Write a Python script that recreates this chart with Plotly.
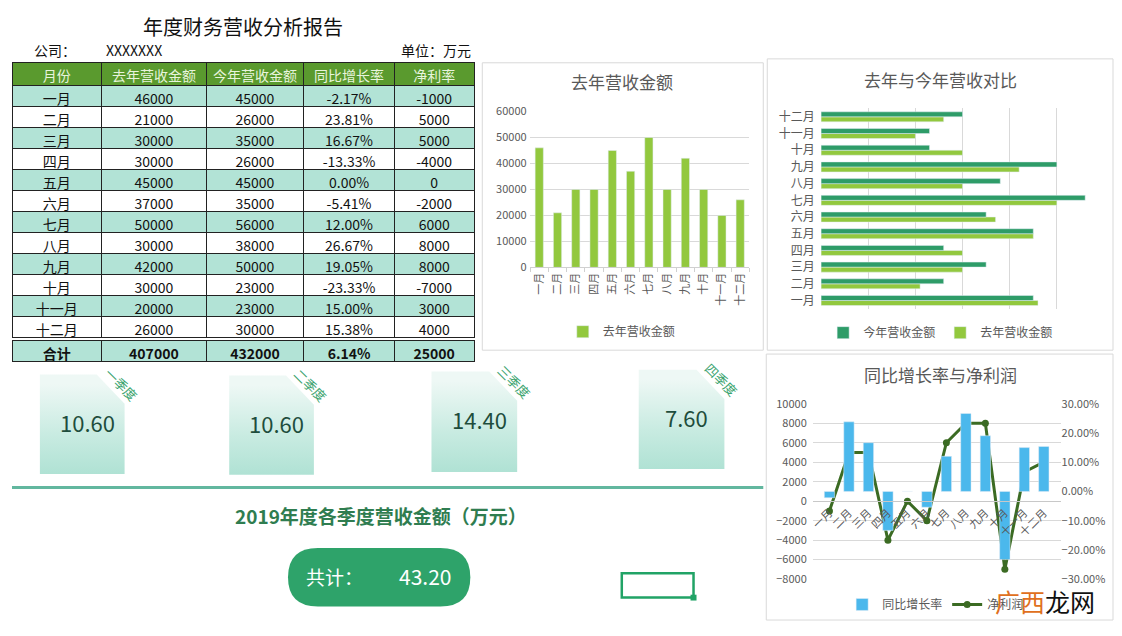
import plotly.graph_objects as go

W, H = 1122, 636          # page size
OX, OY = 8, 8             # page margin around the figure div
PW, PH = W - 2 * OX, H - 2 * OY
def fx(x): return (x - OX) / PW
def fy(y): return 1 - (y - OY) / PH

FONT = "Noto Sans CJK SC, Noto Sans, sans-serif"
GRAY = "#595959"

# ---------------- data ----------------
header = ["月份", "去年营收金额", "今年营收金额", "同比增长率", "净利率"]
months = ["一月", "二月", "三月", "四月", "五月", "六月", "七月", "八月", "九月", "十月", "十一月", "十二月"]
last_year = [46000, 21000, 30000, 30000, 45000, 37000, 50000, 30000, 42000, 30000, 20000, 26000]
this_year = [45000, 26000, 35000, 26000, 45000, 35000, 56000, 38000, 50000, 23000, 23000, 30000]
growth_pct = [-2.17, 23.81, 16.67, -13.33, 0.00, -5.41, 12.00, 26.67, 19.05, -23.33, 15.00, 15.38]
net_profit = [-1000, 5000, 5000, -4000, 0, -2000, 6000, 8000, 8000, -7000, 3000, 4000]
total_row = ["合计", "407000", "432000", "6.14%", "25000"]
quarters = ["一季度", "二季度", "三季度", "四季度"]
quarter_values = [10.60, 10.60, 14.40, 7.60]
total_value = 43.20

C_LIGHT = "#92c83e"
C_DARK = "#2e9c68"
C_BLUE = "#4bb8ec"
C_LINE = "#3b6b23"
TEAL = "#b2e3d6"
COLW = [90, 105, 98, 91, 80]

fig = go.Figure()

# ---------------- table ----------------
col_vals = [
    months,
    [str(v) for v in last_year],
    [str(v) for v in this_year],
    [f"{g:.2f}%" for g in growth_pct],
    [str(v) for v in net_profit],
]
row_fill = [TEAL if i % 2 == 0 else "white" for i in range(12)]
fig.add_trace(go.Table(
    domain=dict(x=[fx(8), fx(472)], y=[fy(346), fy(55)]),
    columnwidth=COLW,
    header=dict(values=header, fill_color="#5a9a2e", height=23,
                font=dict(color="#e8f4dc", size=14, family=FONT),
                line=dict(color="#222", width=1), align="center"),
    cells=dict(values=col_vals, fill_color=[row_fill] * 5, height=21,
               font=dict(color="#111", size=14, family=FONT),
               line=dict(color="#222", width=1), align="center"),
))
# total row (bold)
fig.add_trace(go.Table(
    domain=dict(x=[fx(8), fx(472)], y=[fy(368), fy(340)]),
    columnwidth=COLW,
    header=dict(values=total_row, fill_color=TEAL, height=21,
                font=dict(color="#111", size=14, family=FONT, weight="bold"),
                line=dict(color="#222", width=1), align="center"),
    cells=dict(values=[[] for _ in total_row], height=1,
               line=dict(color="rgba(0,0,0,0)", width=0), fill_color="rgba(0,0,0,0)"),
))

# ---------------- chart 1 ----------------
fig.add_trace(go.Bar(x=months, y=last_year, name="去年营收金额", marker_color=C_LIGHT,
                     width=0.45, xaxis="x", yaxis="y", legend="legend"))

# ---------------- chart 2 ----------------
fig.add_trace(go.Bar(y=months, x=last_year, orientation="h", name="去年营收金额",
                     marker_color=C_LIGHT, width=0.3, offset=-0.3,
                     xaxis="x2", yaxis="y2", legend="legend2", legendrank=2))
fig.add_trace(go.Bar(y=months, x=this_year, orientation="h", name="今年营收金额",
                     marker_color=C_DARK, width=0.3, offset=0.0,
                     xaxis="x2", yaxis="y2", legend="legend2", legendrank=1))

# ---------------- chart 3 ----------------
fig.add_trace(go.Bar(x=months, y=[g / 100 for g in growth_pct], name="同比增长率",
                     marker_color=C_BLUE, width=0.53, xaxis="x3", yaxis="y4",
                     legend="legend3"))
fig.add_trace(go.Scatter(x=months, y=net_profit, name="净利润", mode="lines+markers",
                         line=dict(color=C_LINE, width=3),
                         marker=dict(color=C_LINE, size=7),
                         xaxis="x3", yaxis="y3", legend="legend3"))

# ---------------- quarter cards (decoration on a pixel overlay) ----------------
cards = [(36, 121, 375, 477), (226, 311, 376, 478), (429, 515, 372, 475), (637, 723, 370, 472)]
for (L, R, T, B) in cards:
    fig.add_trace(go.Scatter(
        x=[L, R - 28, R, R, L, L], y=[T, T, T + 30, B, B, T], mode="lines",
        line=dict(width=0), fill="toself",
        fillgradient=dict(type="vertical", start=T, stop=B,
                          colorscale=[[0, "#eef8f5"], [0.5, "#c8ebe1"], [1, "#a8dfd0"]]),
        xaxis="x4", yaxis="y5", showlegend=False, hoverinfo="skip"))

fig.update_layout(
    autosize=True, margin=dict(l=0, r=0, t=0, b=0),
    paper_bgcolor="white", plot_bgcolor="rgba(0,0,0,0)",
    font=dict(family=FONT, color=GRAY),
    barmode="overlay", hovermode=False,
    xaxis=dict(domain=[fx(528), fx(748)], anchor="y", type="category", tickangle=-90,
               tickfont=dict(size=11, color=GRAY), showline=True, linecolor="#d0d0d0",
               ticks="outside", tickson="boundaries", tickcolor="#d0d0d0", ticklen=4,
               showgrid=False),
    yaxis=dict(domain=[fy(265), fy(105)], anchor="x", range=[0, 60000], dtick=10000,
               tickformat="d", gridcolor="#d9d9d9", tickfont=dict(size=11, color=GRAY),
               zeroline=False, ticksuffix=" "),
    xaxis2=dict(domain=[fx(820), fx(1104)], anchor="y2", range=[0, 60000], dtick=10000,
                showticklabels=False, gridcolor="#d9d9d9", zeroline=False),
    yaxis2=dict(domain=[fy(307.6), fy(101.9)], anchor="x2", type="category",
                categoryorder="array", categoryarray=months,
                tickfont=dict(size=12, color=GRAY), ticksuffix="  ", showgrid=False),
    xaxis3=dict(domain=[fx(811.6), fx(1060.4)], anchor="free", position=fy(505),
                type="category", tickangle=-45, tickfont=dict(size=11, color=GRAY),
                showline=True, linecolor="#c8c8c8", showgrid=False),
    yaxis3=dict(domain=[fy(585), fy(405)], anchor="x3", range=[-8000, 10000], dtick=2000,
                tickformat="d", gridcolor="#d9d9d9", tickfont=dict(size=11, color=GRAY),
                zeroline=False, ticksuffix="  "),
    yaxis4=dict(overlaying="y3", anchor="x3", side="right", range=[-0.3, 0.3], dtick=0.1,
                tickformat=".2%", showgrid=False, zeroline=False,
                tickfont=dict(size=11, color=GRAY)),
    xaxis4=dict(domain=[0, 1], anchor="y5", range=[OX, W - OX], visible=False, fixedrange=True),
    yaxis5=dict(domain=[0, 1], anchor="x4", range=[H - OY, OY], visible=False, fixedrange=True),
    legend=dict(orientation="h", x=fx(620), xanchor="center", y=fy(331), yanchor="middle",
                font=dict(size=12, color=GRAY), bgcolor="rgba(0,0,0,0)"),
    legend2=dict(orientation="h", x=fx(940), xanchor="center", y=fy(332), yanchor="middle",
                 font=dict(size=12, color=GRAY), bgcolor="rgba(0,0,0,0)"),
    legend3=dict(orientation="h", x=fx(935), xanchor="center", y=fy(611), yanchor="middle",
                 font=dict(size=12, color=GRAY), bgcolor="rgba(0,0,0,0)"),
)

shapes = []
def rect(x0, y0, x1, y1, **kw):
    d = dict(type="rect", xref="paper", yref="paper", x0=fx(x0), x1=fx(x1), y0=fy(y1), y1=fy(y0))
    d.update(kw)
    shapes.append(d)

# panel borders
rect(480, 55, 762, 350, line=dict(color="#d9d9d9", width=1), fillcolor="rgba(0,0,0,0)", layer="below")
rect(766, 51, 1113, 350, line=dict(color="#d9d9d9", width=1), fillcolor="rgba(0,0,0,0)", layer="below")
rect(765, 354, 1113, 627, line=dict(color="#d9d9d9", width=1), fillcolor="rgba(0,0,0,0)", layer="below")
# divider line
shapes.append(dict(type="line", xref="paper", yref="paper", x0=0, x1=fx(762), y0=fy(491), y1=fy(491),
                   line=dict(color="#62b79f", width=3)))
# pill
px0, px1, py0, py1, r = 285, 468, 553, 613, 30
path = (f"M {fx(px0 + r)},{fy(py0)} L {fx(px1 - r)},{fy(py0)} "
        f"Q {fx(px1)},{fy(py0)} {fx(px1)},{fy((py0 + py1) / 2)} "
        f"Q {fx(px1)},{fy(py1)} {fx(px1 - r)},{fy(py1)} "
        f"L {fx(px0 + r)},{fy(py1)} "
        f"Q {fx(px0)},{fy(py1)} {fx(px0)},{fy((py0 + py1) / 2)} "
        f"Q {fx(px0)},{fy(py0)} {fx(px0 + r)},{fy(py0)} Z")
shapes.append(dict(type="path", xref="paper", yref="paper", path=path, fillcolor="#2ea36a",
                   line=dict(width=0)))
# excel selection box
rect(620, 579, 692, 604, line=dict(color="#21a366", width=2.5), fillcolor="rgba(0,0,0,0)")
rect(689, 601, 695, 607, line=dict(width=0), fillcolor="#21a366")
fig.update_layout(shapes=shapes)

ann = []
def text(x, y, s, size=14, color="#111", xanchor="center", **kw):
    d = dict(xref="paper", yref="paper", x=fx(x), y=fy(y), text=s, showarrow=False,
             xanchor=xanchor, yanchor="middle", font=dict(size=size, color=color, family=FONT))
    d.update(kw)
    ann.append(d)

text(240, 18, "年度财务营收分析报告", size=20)
text(28, 42, "公司：", size=14, xanchor="left")
text(100, 42, "XXXXXXX", size=14, xanchor="left")
text(471, 42, "单位：万元", size=14, xanchor="right")
text(620, 74, "去年营收金额", size=17, color=GRAY)
text(940, 72, "去年与今年营收对比", size=17, color=GRAY)
text(940, 375, "同比增长率与净利润", size=17, color=GRAY)

for (L, R, T, B), q, v in zip(cards, quarters, quarter_values):
    text((L + R) / 2 + 5, T + 49, f"{v:.2f}", size=22, color="#1e4d3c")
    text(R - 3, T + 10, q, size=13, color="#3aa36e", textangle=45)

text(378, 520, "<b>2019年度各季度营收金额（万元）</b>", size=19, color="#2f7d50")
text(332, 582, "共计：", size=19, color="white")
text(422, 582, f"{total_value:.2f}", size=21, color="white")
text(993, 607, "<span style='color:#e07020'>广西</span>龙网", size=25, color="#111",
     xanchor="left")
fig.update_layout(annotations=ann)

fig.write_html("out.html", default_width="calc(100vw - 16px)",
               default_height="calc(100vh - 16px)",
               config={"displayModeBar": False, "responsive": True})
